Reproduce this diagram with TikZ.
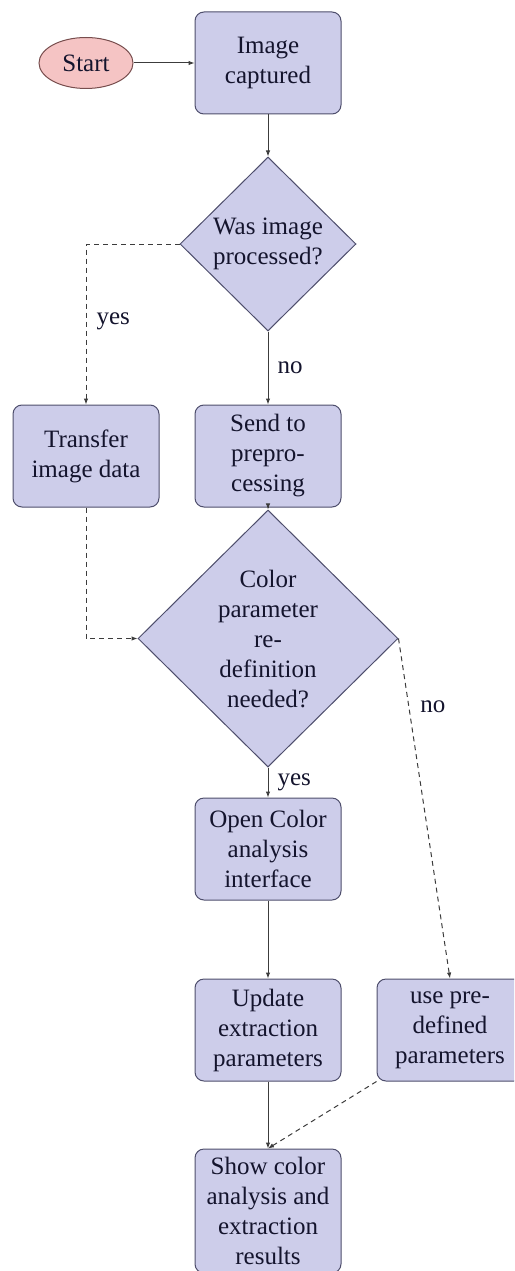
\documentclass[tikz,border=0pt]{standalone}
\usepackage{fontspec}
\setmainfont{Liberation Serif}
\usetikzlibrary{shapes.geometric,arrows.meta}
\definecolor{blockfill}{RGB}{205,205,234}
\definecolor{blockdraw}{RGB}{78,78,108}
\definecolor{startfill}{RGB}{245,196,196}
\definecolor{startdraw}{RGB}{120,78,78}
\definecolor{linecol}{RGB}{60,60,60}
\definecolor{textcol}{RGB}{20,20,45}
\begin{document}
\begin{tikzpicture}[x=1pt,y=-1pt,
  every node/.style={font=\fontsize{25}{30}\selectfont, text=textcol},
  blockbox/.style={rectangle, draw=blockdraw, fill=blockfill, line width=1pt,
    rounded corners=9pt, align=center, minimum width=146pt, minimum height=102pt, inner sep=6pt},
  decbox/.style={diamond, aspect=1, draw=blockdraw, fill=blockfill, line width=1pt,
    align=center, inner sep=0pt},
  startbox/.style={ellipse, draw=startdraw, fill=startfill, line width=1pt,
    minimum width=94pt, minimum height=51pt, inner sep=0pt},
  conn/.style={draw=linecol, line width=1pt, -{Latex[length=6pt,width=4.5pt]}},
  dconn/.style={conn, dash pattern=on 5pt off 4pt},
  lab/.style={inner sep=0pt, anchor=west}
]
\path[use as bounding box, clip] (0,0) rectangle (514,1271);

\node[startbox] (start) at (86,63) {Start};
\node[blockbox] (img) at (268,63) {Image\\captured};
\node[decbox, minimum width=176pt, minimum height=174pt] (dec1) at (268,244) {Was image\\processed?};
\node[blockbox] (transfer) at (86,456) {Transfer\\image data};
\node[blockbox] (send) at (268,456) {Send to\\prepro-\\cessing};
\node[decbox, minimum width=260pt, minimum height=257pt] (dec2) at (268,638.5) {Color\\parameter\\re-\\definition\\needed?};
\node[blockbox] (open) at (268,849) {Open Color\\analysis\\interface};
\node[blockbox] (update) at (268,1030) {Update\\extraction\\parameters};
\node[blockbox] (use) at (450,1030) {use pre-\\defined\\parameters};
\node[blockbox, minimum height=124pt] (show) at (268,1211) {Show color\\analysis and\\extraction\\results};

\draw[conn] (start) -- (img);
\draw[conn] (img) -- (dec1);
\draw[dconn] (dec1.west) -| node[lab, pos=0.74, xshift=10pt] {yes} (transfer.north);
\draw[conn] (dec1) -- node[lab, midway, xshift=9pt] {no} (send);
\draw[conn] (send) -- (dec2);
\draw[dconn] (transfer.south) |- (dec2.west);
\draw[dconn] (dec2.east) -- node[lab, pos=0.2, xshift=11pt] {no} (use.north);
\draw[conn] (dec2) -- node[lab, midway, xshift=9pt] {yes} (open);
\draw[conn] (open) -- (update);
\draw[conn] (update) -- (show);
\draw[dconn] (use.south west) -- (show.north);
\end{tikzpicture}
\end{document}
